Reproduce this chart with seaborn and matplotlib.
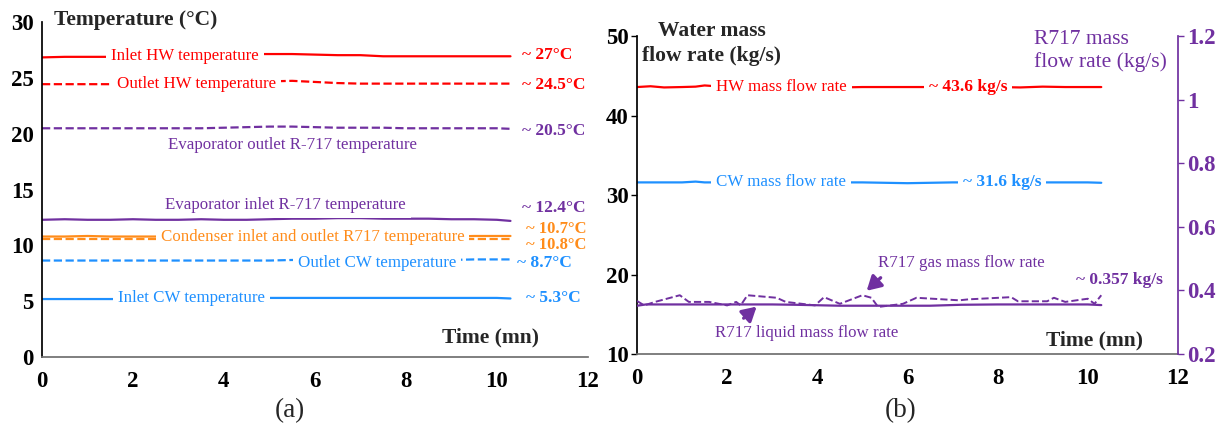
import numpy as np
import pandas as pd
import matplotlib
matplotlib.use("Agg")
import matplotlib.pyplot as plt
import seaborn as sns

# ---- data ----
# (a) temperatures (degC) vs time (mn)
t_temp = [0, 0.5, 1, 1.5, 2, 2.5, 3, 3.5, 4, 4.5, 5, 5.5, 6, 6.5, 7, 7.5, 8, 8.5, 9, 9.5, 10, 10.3]
inlet_hw = [26.85, 26.9, 26.9, 26.9, 26.95, 27.0, 27.0, 27.05, 27.1, 27.15, 27.15, 27.15,
            27.1, 27.05, 27.05, 26.95, 26.95, 26.95, 26.95, 26.95, 26.95, 26.95]
outlet_hw = [24.45, 24.45, 24.45, 24.45, 24.45, 24.45, 24.5, 24.5, 24.55, 24.6, 24.7, 24.75,
             24.65, 24.55, 24.5, 24.5, 24.5, 24.5, 24.5, 24.5, 24.5, 24.5]
evap_out = [20.5, 20.5, 20.5, 20.5, 20.5, 20.5, 20.5, 20.5, 20.55, 20.6, 20.65, 20.65,
            20.6, 20.55, 20.55, 20.55, 20.5, 20.5, 20.5, 20.5, 20.5, 20.45]
evap_in = [12.3, 12.35, 12.3, 12.3, 12.35, 12.3, 12.3, 12.35, 12.3, 12.3, 12.35, 12.4,
           12.4, 12.45, 12.45, 12.4, 12.4, 12.4, 12.35, 12.35, 12.3, 12.2]
cond_in = [10.8, 10.8, 10.85, 10.8, 10.8, 10.8, 10.8, 10.8, 10.8, 10.8, 10.8, 10.8,
           10.8, 10.8, 10.8, 10.8, 10.8, 10.8, 10.8, 10.85, 10.85, 10.85]
cond_out = [10.55, 10.55, 10.55, 10.55, 10.55, 10.55, 10.55, 10.55, 10.55, 10.55, 10.55, 10.55,
            10.55, 10.55, 10.55, 10.55, 10.55, 10.55, 10.55, 10.55, 10.55, 10.55]
outlet_cw = [8.65, 8.65, 8.65, 8.65, 8.65, 8.65, 8.65, 8.65, 8.65, 8.65, 8.65, 8.7,
             8.7, 8.7, 8.7, 8.7, 8.7, 8.7, 8.7, 8.75, 8.75, 8.75]
inlet_cw = [5.2, 5.2, 5.2, 5.2, 5.2, 5.2, 5.2, 5.2, 5.25, 5.25, 5.3, 5.3,
            5.3, 5.3, 5.3, 5.3, 5.3, 5.3, 5.3, 5.3, 5.3, 5.25]

# (b) water mass flow rates (kg/s, left axis)
t_flow = [0, 0.3, 0.6, 1.0, 1.3, 1.5, 2, 3, 4, 4.5, 5, 6, 7, 8, 8.5, 9, 9.5, 10, 10.3]
hw_flow = [43.6, 43.7, 43.55, 43.6, 43.65, 43.8, 43.6, 43.6, 43.6, 43.55, 43.6, 43.6,
           43.6, 43.6, 43.55, 43.65, 43.6, 43.6, 43.6]
cw_flow = [31.6, 31.6, 31.6, 31.6, 31.7, 31.6, 31.6, 31.6, 31.6, 31.6, 31.6, 31.5,
           31.6, 31.6, 31.6, 31.6, 31.6, 31.6, 31.55]

# (b) R717 mass flow rates (kg/s, right axis)
t_gas = [0, 0.16, 0.4, 0.95, 1.15, 1.6, 2.0, 2.2, 2.3, 2.45, 3.1, 3.3, 3.95, 4.15, 4.5,
         5.0, 5.2, 5.35, 5.9, 6.2, 7.15, 7.35, 8.3, 8.45, 9.1, 9.25, 9.5, 10.0, 10.15, 10.3]
gas_flow = [0.367, 0.353, 0.364, 0.385, 0.364, 0.364, 0.353, 0.364, 0.353, 0.385, 0.377,
            0.364, 0.353, 0.379, 0.358, 0.385, 0.377, 0.348, 0.358, 0.377, 0.369, 0.372,
            0.379, 0.366, 0.366, 0.377, 0.364, 0.374, 0.358, 0.385]
t_liq = [0, 0.2, 1, 2, 3, 3.5, 4.5, 5.5, 6.5, 7.2, 8, 9, 10, 10.3]
liq_flow = [0.352, 0.356, 0.356, 0.356, 0.356, 0.355, 0.352, 0.352, 0.352, 0.355, 0.356,
            0.356, 0.356, 0.354]

RED = "#FF0000"
PURPLE = "#7030A0"
ORANGE = "#FF8C1A"
BLUE = "#1E90FF"

sns.set_theme(style="white")
plt.rcParams["font.family"] = ["Liberation Serif", "DejaVu Serif"]

fig = plt.figure(figsize=(12.21, 4.36), dpi=100)
ax1 = fig.add_axes([0.0344, 0.181, 0.447, 0.768])
ax2 = fig.add_axes([0.5217, 0.188, 0.4430, 0.729])
ax3 = ax2.twinx()

box = dict(facecolor="white", edgecolor="none", pad=3.5)

# ---- panel (a) ----
temp_series = [
    (inlet_hw, RED, "-"), (outlet_hw, RED, "--"),
    (evap_out, PURPLE, "--"), (evap_in, PURPLE, "-"),
    (cond_in, ORANGE, "-"), (cond_out, ORANGE, "--"),
    (outlet_cw, BLUE, "--"), (inlet_cw, BLUE, "-"),
]
for vals, col, ls in temp_series:
    df = pd.DataFrame({"t": t_temp, "v": vals})
    sns.lineplot(data=df, x="t", y="v", ax=ax1, color=col, linestyle=ls, linewidth=1.6)

ax1.set_xlim(0, 12)
ax1.set_ylim(0, 30)
ax1.set_xticks(range(0, 13, 2))
ax1.set_yticks(range(0, 31, 5))
ax1.set_xlabel("")
ax1.set_ylabel("")

lab = dict(fontsize=12.2, ha="center", va="center", bbox=box)
ax1.text(3.15, 27.0, "Inlet HW temperature", color=RED, **lab)
ax1.text(3.4, 24.5, "Outlet HW temperature", color=RED, **lab)
ax1.text(5.5, 19.0, "Evaporator outlet R-717 temperature", color=PURPLE, **lab)
ax1.text(5.35, 13.6, "Evaporator inlet R-717 temperature", color=PURPLE, **lab)
ax1.text(5.95, 10.75, "Condenser inlet and outlet R717 temperature", color=ORANGE, **lab)
ax1.text(7.36, 8.4, "Outlet CW temperature", color=BLUE, **lab)
ax1.text(3.28, 5.25, "Inlet CW temperature", color=BLUE, **lab)

val = dict(fontsize=12.5, fontweight="bold", ha="left", va="center")
ax1.text(10.55, 27.1, "~ 27°C", color=RED, **val)
ax1.text(10.55, 24.35, "~ 24.5°C", color=RED, **val)
ax1.text(10.55, 20.3, "~ 20.5°C", color=PURPLE, **val)
ax1.text(10.55, 13.4, "~ 12.4°C", color=PURPLE, **val)
ax1.text(10.65, 11.5, "~ 10.7°C", color=ORANGE, fontsize=12, fontweight="bold",
         ha="left", va="center")
ax1.text(10.65, 10.0, "~ 10.8°C", color=ORANGE, fontsize=12, fontweight="bold",
         ha="left", va="center")
ax1.text(10.45, 8.4, "~ 8.7°C", color=BLUE, **val)
ax1.text(10.65, 5.3, "~ 5.3°C", color=BLUE, **val)

ax1.text(0.27, 30.2, "Temperature (°C)", fontsize=15.5, fontweight="bold", ha="left", va="center")
ax1.text(9.85, 1.8, "Time (mn)", fontsize=15.5, fontweight="bold", ha="center", va="center")

# ---- panel (b) ----
for vals, col in [(hw_flow, RED), (cw_flow, BLUE)]:
    df = pd.DataFrame({"t": t_flow, "v": vals})
    sns.lineplot(data=df, x="t", y="v", ax=ax2, color=col, linewidth=1.6)
sns.lineplot(data=pd.DataFrame({"t": t_gas, "v": gas_flow}), x="t", y="v", ax=ax3,
             color=PURPLE, linestyle="--", linewidth=1.4)
sns.lineplot(data=pd.DataFrame({"t": t_liq, "v": liq_flow}), x="t", y="v", ax=ax3,
             color=PURPLE, linewidth=1.6)

ax2.set_xlim(0, 12)
ax2.set_ylim(10, 50)
ax2.set_xticks(range(0, 13, 2))
ax2.set_yticks(range(10, 51, 10))
ax3.set_ylim(0.2, 1.2)
ax3.set_yticks([0.2, 0.4, 0.6, 0.8, 1.0, 1.2])
ax3.set_yticklabels(["0.2", "0.4", "0.6", "0.8", "1", "1.2"])
for a in (ax2, ax3):
    a.set_xlabel("")
    a.set_ylabel("")

ax2.text(3.2, 43.6, "HW mass flow rate", color=RED, **lab)
ax2.text(7.34, 43.6, "~ 43.6 kg/s", color=RED, fontsize=12.5, fontweight="bold",
         ha="center", va="center", bbox=box)
ax2.text(3.2, 31.6, "CW mass flow rate", color=BLUE, **lab)
ax2.text(8.1, 31.6, "~ 31.6 kg/s", color=BLUE, fontsize=12.5, fontweight="bold",
         ha="center", va="center", bbox=box)

ax3.text(7.2, 0.486, "R717 gas mass flow rate", color=PURPLE, fontsize=12.2,
         ha="center", va="center")
ax3.text(3.77, 0.266, "R717 liquid mass flow rate", color=PURPLE, fontsize=12.2,
         ha="center", va="center")
ax3.text(10.7, 0.432, "~ 0.357 kg/s", color=PURPLE, fontsize=12.5, fontweight="bold",
         ha="center", va="center")
arrow = dict(arrowstyle="-|>,head_width=0.4,head_length=0.7", color=PURPLE, lw=2.4)
ax3.annotate("", xy=(5.05, 0.393), xytext=(5.45, 0.446), arrowprops=arrow)
ax3.annotate("", xy=(2.7, 0.355), xytext=(2.32, 0.307), arrowprops=arrow)

ax3.text(10.15, 0.242, "Time (mn)", fontsize=15.5, fontweight="bold", ha="center", va="center")
fig.text(0.583, 0.900, "Water mass\nflow rate (kg/s)", fontsize=15.5, fontweight="bold",
         ha="center", va="center", linespacing=1.3)
fig.text(0.8465, 0.884, "R717 mass\nflow rate (kg/s)", fontsize=15.5, color=PURPLE,
         ha="left", va="center", linespacing=1.2)

# ---- axes styling ----
for a in (ax1, ax2, ax3):
    a.grid(False)
    a.spines["top"].set_visible(False)
    a.tick_params(axis="both", direction="out", length=4, width=1, labelsize=16.5)
    for t in a.get_xticklabels() + a.get_yticklabels():
        t.set_fontweight("bold")
for a in (ax1, ax2):
    a.spines["right"].set_visible(False)
    a.spines["left"].set_color("black")
    a.spines["bottom"].set_color("#707070")
    a.tick_params(axis="both", colors="black", pad=2)
    a.tick_params(axis="x", pad=6)
ax1.tick_params(axis="x", colors="#707070", labelcolor="black")
ax2.tick_params(axis="x", colors="#707070", labelcolor="black")
ax3.spines["left"].set_visible(False)
ax3.spines["bottom"].set_visible(False)
ax3.spines["right"].set_color(PURPLE)
ax3.tick_params(axis="y", colors=PURPLE, pad=3)
ax3.patch.set_visible(False)

fig.text(0.237, 0.058, "(a)", fontsize=19.5, ha="center", va="center")
fig.text(0.738, 0.058, "(b)", fontsize=19.5, ha="center", va="center")

fig.savefig("out.png", dpi=100)
